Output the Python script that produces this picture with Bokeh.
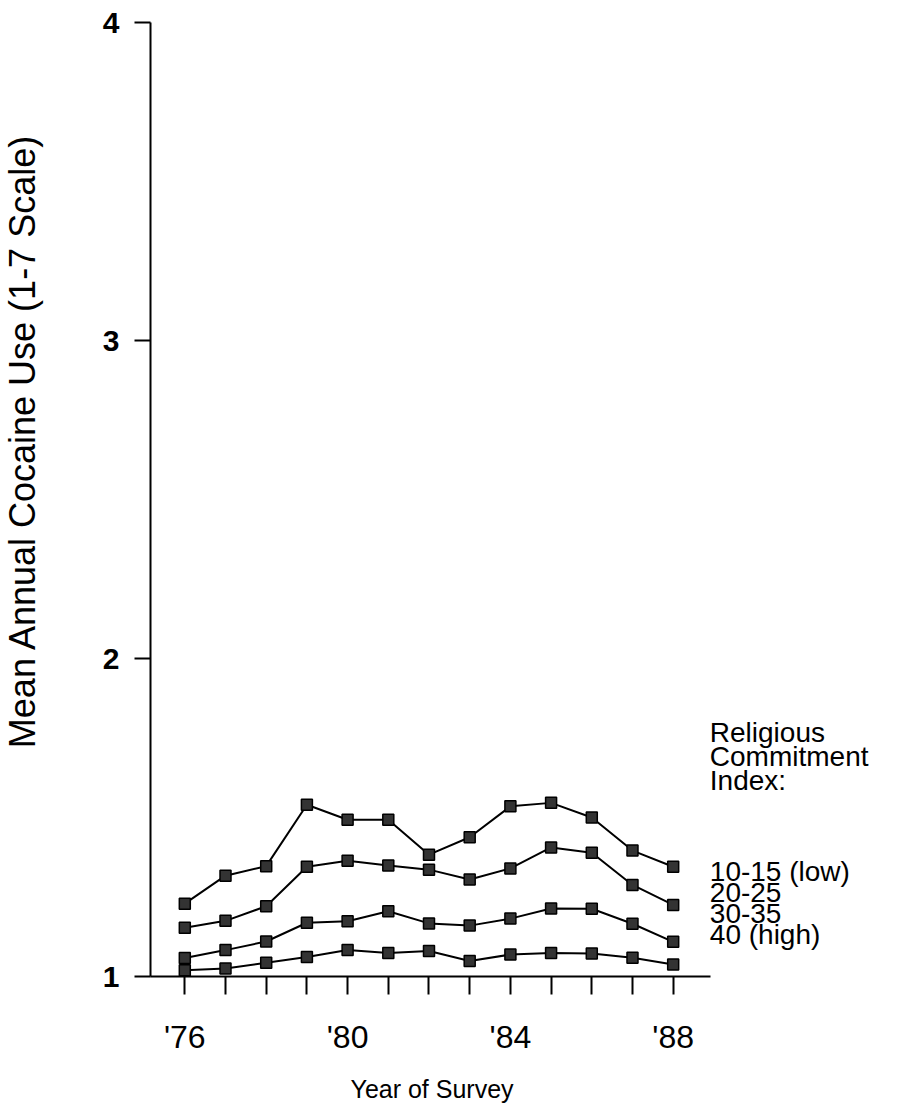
import math
from bokeh.plotting import figure
from bokeh.layouts import row
from bokeh.models import Range1d, FixedTicker, Title
from bokeh.core.properties import value
from bokeh.embed import file_html
from bokeh.resources import INLINE

years = [76, 77, 78, 79, 80, 81, 82, 83, 84, 85, 86, 87, 88]
low_10_15 = [1.229, 1.317, 1.347, 1.540, 1.493, 1.493, 1.383, 1.438, 1.535, 1.546, 1.500, 1.396, 1.345]
mid_20_25 = [1.153, 1.175, 1.221, 1.345, 1.364, 1.349, 1.336, 1.305, 1.340, 1.406, 1.389, 1.288, 1.225]
mid_30_35 = [1.058, 1.083, 1.110, 1.169, 1.174, 1.205, 1.167, 1.160, 1.182, 1.214, 1.213, 1.166, 1.109]
high_40 = [1.020, 1.025, 1.043, 1.061, 1.083, 1.074, 1.080, 1.049, 1.069, 1.074, 1.072, 1.059, 1.038]
series = [low_10_15, mid_20_25, mid_30_35, high_40]

x_tick_labels = {76: "'76", 80: "'80", 84: "'84", 88: "'88"}
y_ticks = [1, 2, 3, 4]
x_title = "Year of Survey"
y_title = "Mean Annual Cocaine Use (1-7 Scale)"
legend_title = ["Religious", "Commitment", "Index:"]
legend_items = ["10-15 (low)", "20-25", "30-35", "40 (high)"]

FONT = "Liberation Sans"
H = 1117
LAB_W = 60

# narrow strip on the left carrying the vertical axis title
lab = figure(width=LAB_W, height=H, output_backend="svg", toolbar_location=None,
             x_range=Range1d(0, LAB_W), y_range=Range1d(0, H),
             min_border_left=0, min_border_right=0, min_border_top=0, min_border_bottom=0)
lab.axis.visible = False
lab.grid.visible = False
lab.outline_line_color = None
lab.text(x=[22], y=[H - 490], text=[y_title], angle=math.pi / 2,
         text_font=value(FONT), text_font_size="36px", text_align="center",
         text_baseline="middle", text_color="black")

p = figure(width=901 - LAB_W, height=H, output_backend="svg", toolbar_location=None,
           x_range=Range1d(75.157, 93.61), y_range=Range1d(1, 4),
           min_border_left=150 - LAB_W, min_border_top=22, min_border_bottom=140,
           min_border_right=0)
p.outline_line_color = None
p.grid.visible = False
p.background_fill_color = "white"
p.border_fill_color = "white"

for s in series:
    p.line(years, s, line_color="black", line_width=2)
    p.scatter(years, s, marker="square", size=11, fill_color="#333333",
              line_color="black", line_width=1.5)

# x axis
xa = p.xaxis[0]
xa.bounds = (75.157, 88.92)
xa.ticker = FixedTicker(ticks=years)
xa.major_label_overrides = {y: x_tick_labels.get(y, "") for y in years}
xa.minor_tick_line_color = None
xa.major_tick_in = 0
xa.major_tick_out = 18
xa.major_tick_line_width = 2
xa.axis_line_width = 2
xa.major_label_text_font = FONT
xa.major_label_text_font_size = "32px"
xa.major_label_text_color = "black"
xa.major_label_standoff = 24

ya = p.yaxis[0]
ya.ticker = FixedTicker(ticks=y_ticks)
ya.minor_tick_line_color = None
ya.major_tick_in = 0
ya.major_tick_out = 16
ya.major_tick_line_width = 2
ya.axis_line_width = 2
ya.major_label_text_font = FONT
ya.major_label_text_font_size = "30px"
ya.major_label_text_font_style = "bold"
ya.major_label_text_color = "black"
ya.major_label_standoff = 15

p.add_layout(Title(text=x_title, align="left", offset=200, standoff=30,
                   text_font=FONT, text_font_size="25px", text_font_style="normal",
                   text_color="black"), "below")

# legend text block (data coordinates inside the wide frame)
lx = 88.9
title_y = [1.767, 1.692, 1.617]
p.text(x=[lx] * 3, y=title_y, text=legend_title, text_font=value(FONT),
       text_font_size="28px", text_baseline="middle", text_color="black")
item_y = [1.33, 1.264, 1.198, 1.132]
p.text(x=[lx] * 4, y=item_y, text=legend_items, text_font=value(FONT),
       text_font_size="28px", text_baseline="middle", text_color="black")

layout = row(lab, p, spacing=0)
open("out.html", "w").write(file_html(layout, INLINE))
